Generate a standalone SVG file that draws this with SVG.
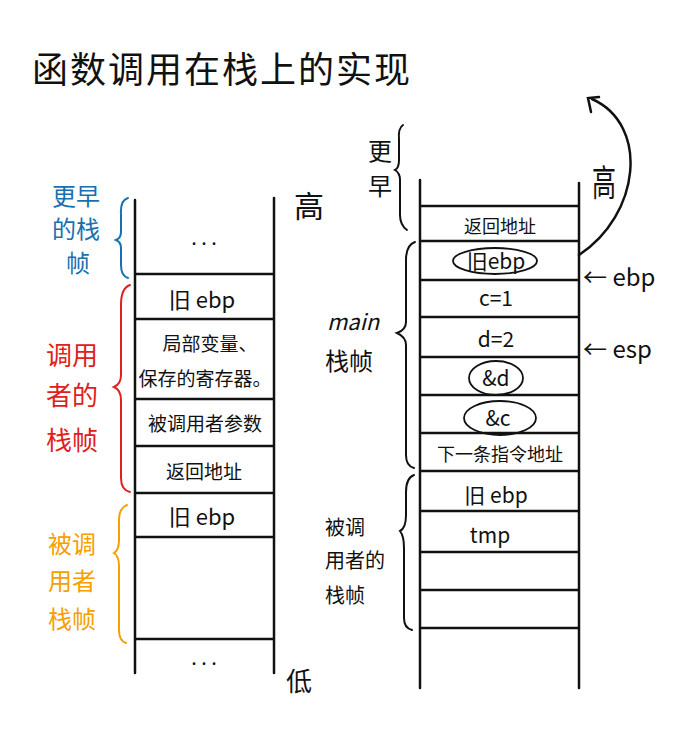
<svg xmlns="http://www.w3.org/2000/svg" width="676" height="741" viewBox="0 0 676 741">
<style>
.ln{stroke:#111;stroke-width:2.5;fill:none;stroke-linecap:round}
.br{stroke-width:2;fill:none;stroke-linecap:round}
.t{font-family:"Noto Sans CJK SC","Noto Sans",sans-serif;fill:#111}
.c{text-anchor:middle}
.blue{fill:#1a6fb0}
.red{fill:#e02020}
.orange{fill:#f5a000}
</style>
<rect width="676" height="741" fill="#fff"/>
<text class="t" x="32" y="83" font-size="36" letter-spacing="2">函数调用在栈上的实现</text>

<g id="left-stack">
<path class="ln" d="M135,200V673M274,198V673M135,274H274M135,319H274M135,399H274M135,446H274M135,493H274M135,537H274M135,639H274"/>
<text class="t c" x="204" y="245" font-size="20">. . .</text>
<text class="t c" x="202" y="308" font-size="22">旧 ebp</text>
<text class="t c" x="210" y="351" font-size="19">局部变量、</text>
<text class="t c" x="205" y="386" font-size="19">保存的寄存器。</text>
<text class="t c" x="205" y="431" font-size="19">被调用者参数</text>
<text class="t c" x="204" y="479" font-size="19">返回地址</text>
<text class="t c" x="202" y="525" font-size="22">旧 ebp</text>
<text class="t c" x="204" y="665" font-size="20">. . .</text>
</g>

<g id="left-labels">
<g id="earlier-frame-left">
<path class="br" stroke="#1a6fb0" d="M128,198Q120,200 121,215V232Q121,238 116,240Q121,242 121,248V265Q121,276 128,278"/>
<text class="t blue" x="52" y="205" font-size="24">更早</text>
<text class="t blue" x="52" y="238" font-size="24">的栈</text>
<text class="t blue" x="66" y="272" font-size="24">帧</text>
</g>
<g id="caller-frame">
<path class="br" stroke="#e02020" d="M130,285Q121,288 121,305V375Q121,384 114,387Q121,390 121,400V478Q121,490 130,492"/>
<text class="t red" x="46" y="365" font-size="26">调用</text>
<text class="t red" x="46" y="405" font-size="26">者的</text>
<text class="t red" x="46" y="450" font-size="26">栈帧</text>
</g>
<g id="callee-frame-left">
<path class="br" stroke="#f5a000" d="M127,505Q119,508 119,520V540Q119,550 114,553Q119,556 119,566V630Q119,641 126,643"/>
<text class="t orange" x="48" y="553" font-size="24">被调</text>
<text class="t orange" x="48" y="590" font-size="24">用者</text>
<text class="t orange" x="48" y="628" font-size="24">栈帧</text>
</g>
<text class="t" x="294" y="217" font-size="30">高</text>
<text class="t" x="286" y="691" font-size="26">低</text>
</g>

<g id="right-stack">
<path class="ln" d="M420,180V688M579,183V688M420,206H579M420,241H579M420,280H579M420,317H579M420,357H579M420,395H579M420,433H579M420,471H579M420,511H579M420,552H579M420,590H579M420,628H579"/>
<text class="t c" x="500" y="233" font-size="18">返回地址</text>
<ellipse cx="495" cy="261" rx="42" ry="13" fill="none" stroke="#111" stroke-width="1.8"/>
<text class="t c" x="496" y="269" font-size="21">旧ebp</text>
<text class="t c" x="496" y="306" font-size="21">c=1</text>
<text class="t c" x="496" y="347" font-size="21">d=2</text>
<ellipse cx="496" cy="378" rx="27" ry="17" fill="none" stroke="#111" stroke-width="1.8"/>
<text class="t c" x="496" y="386" font-size="21">&amp;d</text>
<ellipse cx="500" cy="418" rx="36" ry="17" fill="none" stroke="#111" stroke-width="1.8"/>
<text class="t c" x="498" y="426" font-size="21">&amp;c</text>
<text class="t c" x="500" y="461" font-size="18">下一条指令地址</text>
<text class="t c" x="496" y="503" font-size="21">旧 ebp</text>
<text class="t c" x="490" y="543" font-size="21">tmp</text>
</g>

<g id="right-labels">
<g id="earlier-frame-right">
<path class="br" stroke="#111" d="M403,125Q398,128 399,140V160Q399,168 395,170Q400,173 400,180V215Q400,225 407,230"/>
<text class="t" x="368" y="160" font-size="24">更</text>
<text class="t" x="368" y="195" font-size="24">早</text>
</g>
<g id="main-frame">
<path class="br" stroke="#111" d="M415,242Q406,245 406,260V322Q406,330 397,333Q406,337 406,345V455Q406,466 414,468"/>
<text class="t" x="327" y="330" font-size="22" font-style="italic">main</text>
<text class="t" x="325" y="370" font-size="24">栈帧</text>
</g>
<g id="callee-frame-right">
<path class="br" stroke="#111" d="M414,475Q406,478 406,492V515Q406,528 400,531Q404,536 404,548V618Q404,628 412,630"/>
<text class="t" x="325" y="535" font-size="20">被调</text>
<text class="t" x="325" y="568" font-size="20">用者的</text>
<text class="t" x="325" y="603" font-size="20">栈帧</text>
</g>
<text class="t" x="0" y="0" font-size="24" transform="translate(592 196) scale(1 1.5)">高</text>
<text class="t" x="583" y="286" font-size="24">← ebp</text>
<text class="t" x="583" y="358" font-size="24">← esp</text>
</g>

<g id="connectors">
<path class="ln" stroke-width="2" d="M579,255C640,215 650,125 592,99"/>
<path class="ln" stroke-width="2" d="M599,97L588,98L591,112"/>
</g>
</svg>
